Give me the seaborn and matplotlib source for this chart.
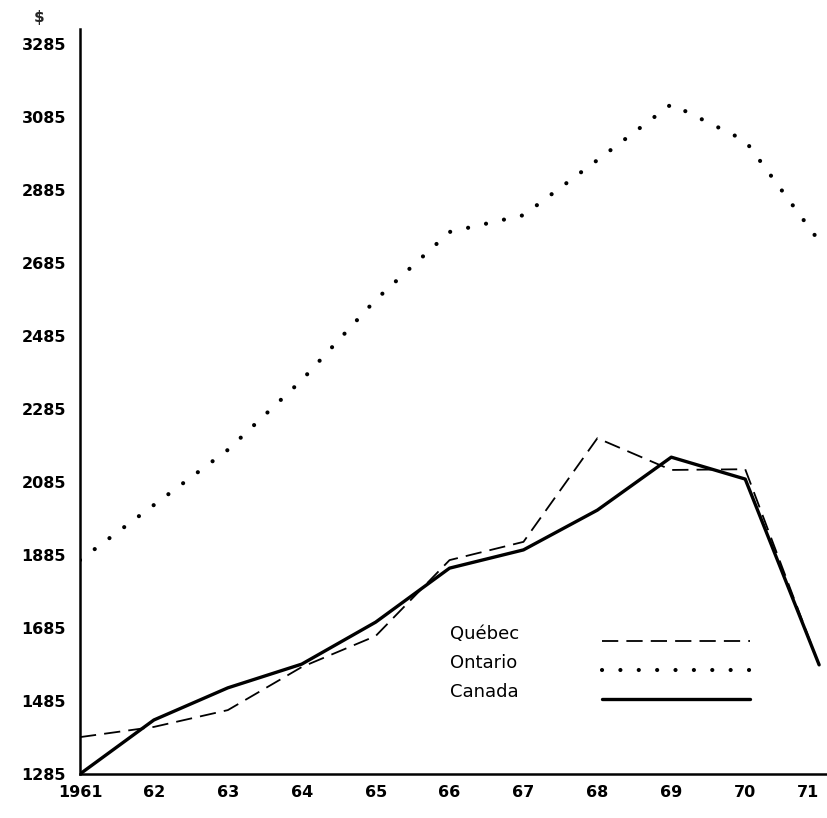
import matplotlib
matplotlib.use("Agg")
import matplotlib.pyplot as plt
import seaborn as sns
import pandas as pd

years = [1961, 1962, 1963, 1964, 1965, 1966, 1967, 1968, 1969, 1970, 1971]
year_labels = ["1961", "62", "63", "64", "65", "66", "67", "68", "69", "70", "71"]
quebec = [1386, 1414, 1460, 1578, 1663, 1871, 1921, 2205, 2118, 2120, 1583]
ontario = [1871, 2022, 2173, 2364, 2584, 2770, 2816, 2967, 3120, 3020, 2745]
canada = [1285, 1433, 1521, 1586, 1701, 1849, 1899, 2008, 2153, 2093, 1584]
y_ticks = [1285, 1485, 1685, 1885, 2085, 2285, 2485, 2685, 2885, 3085, 3285]
series_names = ["Québec", "Ontario", "Canada"]

sns.set_style("white")
plt.rcParams['font.family'] = ['DejaVu Sans']

fig = plt.figure(figsize=(8.28, 8.18), dpi=100)
ax = fig.add_axes([0.0966, 0.0538, 0.9034, 0.9107])

df_q = pd.DataFrame({"year": years, "value": quebec})
df_o = pd.DataFrame({"year": years, "value": ontario})
df_c = pd.DataFrame({"year": years, "value": canada})

sns.lineplot(data=df_q, x="year", y="value", ax=ax, color="black", lw=1.3,
             linestyle=(0, (9, 4.5)), label=series_names[0])
sns.lineplot(data=df_o, x="year", y="value", ax=ax, color="black", lw=3.0,
             linestyle=(0, (0.01, 4.4)), label=series_names[1])
sns.lineplot(data=df_c, x="year", y="value", ax=ax, color="black", lw=2.4,
             label=series_names[2])
for ln in ax.get_lines():
    if ln.get_label() == "Ontario":
        ln.set_dash_capstyle("round")

ax.set_xlim(1961, 1971.12)
ax.set_ylim(1285, 3326)
ax.set_xticks(years)
ax.set_xticklabels(year_labels)
ax.set_yticks(y_ticks)
ax.set_yticklabels([str(v) for v in y_ticks])
ax.set_xlabel("")
ax.set_ylabel("")

for side in ["top", "right"]:
    ax.spines[side].set_visible(False)
for side in ["left", "bottom"]:
    ax.spines[side].set_linewidth(1.8)
    ax.spines[side].set_color("black")

ax.tick_params(axis="y", direction="in", length=11, width=1.6, pad=10,
               labelsize=11.5, colors="black")
ax.tick_params(axis="x", direction="in", length=9, width=1.6, pad=8,
               labelsize=11.5, colors="black")
for t in ax.get_xticklabels() + ax.get_yticklabels():
    t.set_fontweight("bold")
xl = ax.get_xticklabels()
xl[-1].set_horizontalalignment("right")
xl[-1].set_x(1971.12)

ax.text(-0.055, 1.005, "$", transform=ax.transAxes, fontsize=11,
        fontweight="bold", ha="center", va="bottom")

# legend: handles on the right, labels left-aligned in a column to their left
handles = ax.get_legend_handles_labels()[0]
leg = ax.legend(handles, ["", "", ""], loc="upper left",
                bbox_to_anchor=(0.686, 0.201), frameon=False,
                handlelength=8.2, handletextpad=0, labelspacing=0.62,
                fontsize=13, borderpad=0)
fig.canvas.draw()
inv = ax.transAxes.inverted()
for name, hl in zip(series_names, leg.get_lines()):
    bb = hl.get_window_extent(fig.canvas.get_renderer())
    yc = (bb.y0 + bb.y1) / 2 + 7
    _, ya = inv.transform((0, yc))
    ax.text(0.495, ya, name, transform=ax.transAxes, fontsize=13,
            ha="left", va="center", color="black")

ax.grid(False)
fig.savefig("out.png", dpi=100, facecolor="white")
